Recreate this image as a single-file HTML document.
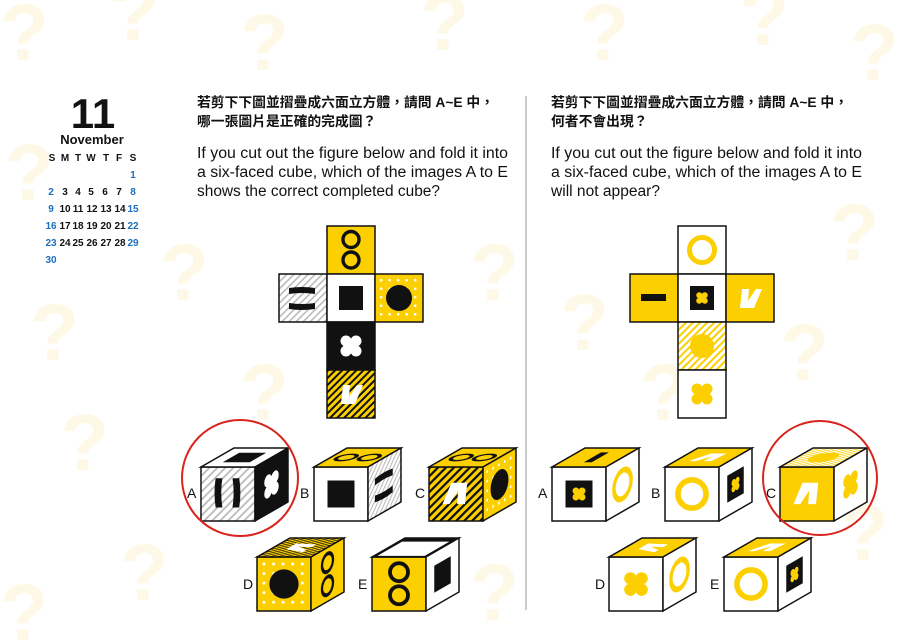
<!DOCTYPE html>
<html><head><meta charset="utf-8"><style>
html,body{margin:0;padding:0;background:#fff;}
svg{display:block;font-family:"Liberation Sans","Noto Sans CJK TC",sans-serif;}
</style></head><body>
<svg width="907" height="643" viewBox="0 0 907 643" xmlns="http://www.w3.org/2000/svg">
<defs>
<pattern id="hG" width="5" height="5" patternUnits="userSpaceOnUse" patternTransform="rotate(45)"><rect width="5" height="5" fill="#fff"/><rect width="1.6" height="5" fill="#bbb"/></pattern>
<pattern id="sY" width="5" height="5" patternUnits="userSpaceOnUse" patternTransform="rotate(45)"><rect width="5" height="5" fill="#fccf00"/><rect width="2" height="5" fill="#111"/></pattern>
<pattern id="hY" width="5" height="5" patternUnits="userSpaceOnUse" patternTransform="rotate(45)"><rect width="5" height="5" fill="#fff"/><rect width="2" height="5" fill="#fccf00"/></pattern>
<pattern id="dY" width="8.5" height="8.5" x="2" y="2" patternUnits="userSpaceOnUse"><rect width="8.5" height="8.5" fill="#fccf00"/><circle cx="4.2" cy="4.2" r="1.3" fill="#fff"/></pattern>
<g id="bars"><path d="M10 14 Q23 12 36 14 V20 Q23 18 10 20Z"/><path d="M10 29 Q23 31 36 29 V35 Q23 37 10 35Z"/></g>
<rect id="sq" x="12" y="12" width="24" height="24"/>
<circle id="dot" cx="24" cy="24" r="13"/>
<g id="fl"><circle cx="19" cy="19" r="5.5"/><circle cx="29" cy="19" r="5.5"/><circle cx="19" cy="29" r="5.5"/><circle cx="29" cy="29" r="5.5"/><rect x="18" y="18" width="12" height="12"/></g>
<g id="rings" fill="none" stroke-width="3.4"><circle cx="24" cy="13.5" r="8"/><circle cx="24" cy="34" r="8"/></g>
<circle id="ring" cx="24" cy="24" r="12.5" fill="none" stroke-width="5"/>
<polygon id="v" points="16,15 23,15 22,27 30,15 36,15 28,34 14,34"/>
<rect id="dash" x="11" y="20" width="25" height="7"/>
<g id="sqfl"><rect x="12" y="12" width="24" height="24" fill="#111"/><g transform="translate(24 24) scale(0.55) translate(-24 -24)" fill="#fccf00"><use href="#fl"/></g></g>
</defs>

<!-- background question marks -->
<g fill="#fef9e6" font-weight="bold" font-size="80">
<text x="0" y="60">?</text><text x="110" y="40">?</text><text x="240" y="70">?</text><text x="420" y="50">?</text><text x="580" y="60">?</text><text x="740" y="45">?</text><text x="850" y="80">?</text>
<text x="5" y="200">?</text><text x="160" y="300">?</text><text x="30" y="360">?</text><text x="470" y="300">?</text><text x="560" y="350">?</text><text x="830" y="260">?</text><text x="780" y="380">?</text>
<text x="60" y="470">?</text><text x="120" y="600">?</text><text x="0" y="640">?</text><text x="470" y="620">?</text><text x="840" y="560">?</text><text x="640" y="420">?</text><text x="240" y="420">?</text>
</g>

<!-- calendar -->
<text x="93" y="128" text-anchor="middle" font-size="42" font-weight="bold" fill="#111">11</text>
<text x="92" y="144" text-anchor="middle" font-size="13" font-weight="bold" fill="#111">November</text>
<g font-size="10" font-weight="bold" text-anchor="middle" fill="#111">
<text x="52" y="161">S</text><text x="65" y="161">M</text><text x="78" y="161">T</text><text x="91" y="161">W</text><text x="106" y="161">T</text><text x="119" y="161">F</text><text x="133" y="161">S</text>
<text x="133" y="178" fill="#1a6fc0">1</text>
<text x="51" y="195" fill="#1a6fc0">2</text><text x="65" y="195">3</text><text x="78" y="195">4</text><text x="91" y="195">5</text><text x="105" y="195">6</text><text x="119" y="195">7</text><text x="133" y="195" fill="#1a6fc0">8</text>
<text x="51" y="212" fill="#1a6fc0">9</text><text x="65" y="212">10</text><text x="78" y="212">11</text><text x="92" y="212">12</text><text x="106" y="212">13</text><text x="120" y="212">14</text><text x="133" y="212" fill="#1a6fc0">15</text>
<text x="51" y="229" fill="#1a6fc0">16</text><text x="65" y="229">17</text><text x="78" y="229">18</text><text x="92" y="229">19</text><text x="106" y="229">20</text><text x="120" y="229">21</text><text x="133" y="229" fill="#1a6fc0">22</text>
<text x="51" y="246" fill="#1a6fc0">23</text><text x="65" y="246">24</text><text x="78" y="246">25</text><text x="92" y="246">26</text><text x="106" y="246">27</text><text x="120" y="246">28</text><text x="133" y="246" fill="#1a6fc0">29</text>
<text x="51" y="263" fill="#1a6fc0">30</text>
</g>

<!-- headings -->
<g fill="#111">
<text x="197" y="107" font-size="13.8" font-weight="bold">若剪下下圖並摺疊成六面立方體，請問 A~E 中，</text>
<text x="197" y="126" font-size="13.8" font-weight="bold">哪一張圖片是正確的完成圖？</text>
<text x="197" y="158" font-size="15.5" textLength="311" lengthAdjust="spacingAndGlyphs">If you cut out the figure below and fold it into</text>
<text x="197" y="177" font-size="15.5" textLength="311" lengthAdjust="spacingAndGlyphs">a six-faced cube, which of the images A to E</text>
<text x="197" y="196" font-size="15.5" textLength="243" lengthAdjust="spacingAndGlyphs">shows the correct completed cube?</text>
<text x="551" y="107" font-size="13.8" font-weight="bold">若剪下下圖並摺疊成六面立方體，請問 A~E 中，</text>
<text x="551" y="126" font-size="13.8" font-weight="bold">何者不會出現？</text>
<text x="551" y="158" font-size="15.5" textLength="311" lengthAdjust="spacingAndGlyphs">If you cut out the figure below and fold it into</text>
<text x="551" y="177" font-size="15.5" textLength="311" lengthAdjust="spacingAndGlyphs">a six-faced cube, which of the images A to E</text>
<text x="551" y="196" font-size="15.5" textLength="109" lengthAdjust="spacingAndGlyphs">will not appear?</text>
</g>
<line x1="526" y1="96" x2="526" y2="610" stroke="#aaa" stroke-width="1.2"/>

<!-- left net -->
<g stroke="#111" stroke-width="1.5">
<g transform="translate(327 226)"><rect width="48" height="48" fill="#fccf00"/><use href="#rings" stroke="#111"/></g>
<g transform="translate(279 274)"><rect width="48" height="48" fill="url(#hG)"/><use href="#bars" fill="#111" stroke="none"/></g>
<g transform="translate(327 274)"><rect width="48" height="48" fill="#fff"/><use href="#sq" fill="#111" stroke="none"/></g>
<g transform="translate(375 274)"><rect width="48" height="48" fill="url(#dY)"/><use href="#dot" fill="#111" stroke="none"/></g>
<g transform="translate(327 322)"><rect width="48" height="48" fill="#111"/><use href="#fl" fill="#fff" stroke="none"/></g>
<g transform="translate(327 370)"><rect width="48" height="48" fill="url(#sY)"/><use href="#v" fill="#fff" stroke="none"/></g>
</g>

<!-- right net -->
<g stroke="#111" stroke-width="1.5">
<g transform="translate(678 226)"><rect width="48" height="48" fill="#fff"/><use href="#ring" stroke="#fccf00"/></g>
<g transform="translate(630 274)"><rect width="48" height="48" fill="#fccf00"/><use href="#dash" fill="#111" stroke="none"/></g>
<g transform="translate(678 274)"><rect width="48" height="48" fill="#fff"/><use href="#sqfl" stroke="none"/></g>
<g transform="translate(726 274)"><rect width="48" height="48" fill="#fccf00"/><use href="#v" fill="#fff" stroke="none"/></g>
<g transform="translate(678 322)"><rect width="48" height="48" fill="url(#hY)"/><circle cx="24" cy="24" r="12" fill="#fccf00" stroke="none"/></g>
<g transform="translate(678 370)"><rect width="48" height="48" fill="#fff"/><use href="#fl" fill="#fccf00" stroke="none"/></g>
</g>

<!-- cubes -->
<g stroke="#111" stroke-width="1.5">
<g transform="translate(201 467)">
<g transform="scale(1.125)"><rect width="48" height="48" fill="url(#hG)" vector-effect="non-scaling-stroke"/><use href="#bars" transform="rotate(90 24 24)" fill="#111" stroke="none"/></g>
<g transform="matrix(1,0,-0.611,0.352,33,-19) scale(1.125)"><rect width="48" height="48" fill="#fff" vector-effect="non-scaling-stroke"/><use href="#sq" fill="#111" stroke="none"/></g>
<g transform="matrix(0.611,-0.352,0,1,54,0) scale(1.125)"><rect width="48" height="48" fill="#111" vector-effect="non-scaling-stroke"/><use href="#fl" fill="#fff" stroke="none"/></g>
</g>
<g transform="translate(314 467)">
<g transform="scale(1.125)"><rect width="48" height="48" fill="#fff" vector-effect="non-scaling-stroke"/><use href="#sq" fill="#111" stroke="none"/></g>
<g transform="matrix(1,0,-0.611,0.352,33,-19) scale(1.125)"><rect width="48" height="48" fill="#fccf00" vector-effect="non-scaling-stroke"/><use href="#rings" transform="rotate(90 24 24)" stroke="#111"/></g>
<g transform="matrix(0.611,-0.352,0,1,54,0) scale(1.125)"><rect width="48" height="48" fill="url(#hG)" vector-effect="non-scaling-stroke"/><use href="#bars" fill="#111" stroke="none"/></g>
</g>
<g transform="translate(429 467)">
<g transform="scale(1.125)"><rect width="48" height="48" fill="url(#sY)" vector-effect="non-scaling-stroke"/><use href="#v" transform="rotate(180 24 24)" fill="#fff" stroke="none"/></g>
<g transform="matrix(1,0,-0.611,0.352,33,-19) scale(1.125)"><rect width="48" height="48" fill="#fccf00" vector-effect="non-scaling-stroke"/><use href="#rings" transform="rotate(90 24 24)" stroke="#111"/></g>
<g transform="matrix(0.611,-0.352,0,1,54,0) scale(1.125)"><rect width="48" height="48" fill="url(#dY)" vector-effect="non-scaling-stroke"/><use href="#dot" fill="#111" stroke="none"/></g>
</g>
<g transform="translate(257 557)">
<g transform="scale(1.125)"><rect width="48" height="48" fill="url(#dY)" vector-effect="non-scaling-stroke"/><use href="#dot" fill="#111" stroke="none"/></g>
<g transform="matrix(1,0,-0.611,0.352,33,-19) scale(1.125)"><rect width="48" height="48" fill="url(#sY)" vector-effect="non-scaling-stroke"/><use href="#v" transform="rotate(90 24 24)" fill="#fff" stroke="none"/></g>
<g transform="matrix(0.611,-0.352,0,1,54,0) scale(1.125)"><rect width="48" height="48" fill="#fccf00" vector-effect="non-scaling-stroke"/><use href="#rings" stroke="#111"/></g>
</g>
<g transform="translate(372 557)">
<g transform="scale(1.125)"><rect width="48" height="48" fill="#fccf00" vector-effect="non-scaling-stroke"/><use href="#rings" stroke="#111"/></g>
<g transform="matrix(1,0,-0.611,0.352,33,-19) scale(1.125)"><rect width="48" height="48" fill="#111" vector-effect="non-scaling-stroke"/><rect x="3" y="9" width="42" height="36" fill="#fff" stroke="none"/></g>
<g transform="matrix(0.611,-0.352,0,1,54,0) scale(1.125)"><rect width="48" height="48" fill="#fff" vector-effect="non-scaling-stroke"/><use href="#sq" fill="#111" stroke="none"/></g>
</g>

<g transform="translate(552 467)">
<g transform="scale(1.125)"><rect width="48" height="48" fill="#fff" vector-effect="non-scaling-stroke"/><use href="#sqfl" stroke="none"/></g>
<g transform="matrix(1,0,-0.611,0.352,33,-19) scale(1.125)"><rect width="48" height="48" fill="#fccf00" vector-effect="non-scaling-stroke"/><use href="#dash" transform="rotate(90 24 24)" fill="#111" stroke="none"/></g>
<g transform="matrix(0.611,-0.352,0,1,54,0) scale(1.125)"><rect width="48" height="48" fill="#fff" vector-effect="non-scaling-stroke"/><use href="#ring" stroke="#fccf00"/></g>
</g>
<g transform="translate(665 467)">
<g transform="scale(1.125)"><rect width="48" height="48" fill="#fff" vector-effect="non-scaling-stroke"/><use href="#ring" stroke="#fccf00"/></g>
<g transform="matrix(1,0,-0.611,0.352,33,-19) scale(1.125)"><rect width="48" height="48" fill="#fccf00" vector-effect="non-scaling-stroke"/><use href="#v" transform="rotate(180 24 24)" fill="#fff" stroke="none"/></g>
<g transform="matrix(0.611,-0.352,0,1,54,0) scale(1.125)"><rect width="48" height="48" fill="#fff" vector-effect="non-scaling-stroke"/><use href="#sqfl" stroke="none"/></g>
</g>
<g transform="translate(780 467)">
<g transform="scale(1.125)"><rect width="48" height="48" fill="#fccf00" vector-effect="non-scaling-stroke"/><use href="#v" transform="rotate(180 24 24)" fill="#fff" stroke="none"/></g>
<g transform="matrix(1,0,-0.611,0.352,33,-19) scale(1.125)"><rect width="48" height="48" fill="url(#hY)" vector-effect="non-scaling-stroke"/><circle cx="24" cy="24" r="12" fill="#fccf00" stroke="none"/></g>
<g transform="matrix(0.611,-0.352,0,1,54,0) scale(1.125)"><rect width="48" height="48" fill="#fff" vector-effect="non-scaling-stroke"/><use href="#fl" fill="#fccf00" stroke="none"/></g>
</g>
<g transform="translate(609 557)">
<g transform="scale(1.125)"><rect width="48" height="48" fill="#fff" vector-effect="non-scaling-stroke"/><use href="#fl" fill="#fccf00" stroke="none"/></g>
<g transform="matrix(1,0,-0.611,0.352,33,-19) scale(1.125)"><rect width="48" height="48" fill="#fccf00" vector-effect="non-scaling-stroke"/><use href="#v" transform="rotate(90 24 24)" fill="#fff" stroke="none"/></g>
<g transform="matrix(0.611,-0.352,0,1,54,0) scale(1.125)"><rect width="48" height="48" fill="#fff" vector-effect="non-scaling-stroke"/><use href="#ring" stroke="#fccf00"/></g>
</g>
<g transform="translate(724 557)">
<g transform="scale(1.125)"><rect width="48" height="48" fill="#fff" vector-effect="non-scaling-stroke"/><use href="#ring" stroke="#fccf00"/></g>
<g transform="matrix(1,0,-0.611,0.352,33,-19) scale(1.125)"><rect width="48" height="48" fill="#fccf00" vector-effect="non-scaling-stroke"/><use href="#v" transform="rotate(180 24 24)" fill="#fff" stroke="none"/></g>
<g transform="matrix(0.611,-0.352,0,1,54,0) scale(1.125)"><rect width="48" height="48" fill="#fff" vector-effect="non-scaling-stroke"/><use href="#sqfl" stroke="none"/></g>
</g>
</g>

<!-- labels -->
<g font-size="14" fill="#111">
<text x="187" y="498">A</text><text x="300" y="498">B</text><text x="415" y="498">C</text>
<text x="243" y="589">D</text><text x="358" y="589">E</text>
<text x="538" y="498">A</text><text x="651" y="498">B</text><text x="766" y="498">C</text>
<text x="595" y="589">D</text><text x="710" y="589">E</text>
</g>

<circle cx="240" cy="478" r="58" fill="none" stroke="#d9231d" stroke-width="2"/>
<circle cx="820" cy="478" r="57" fill="none" stroke="#d9231d" stroke-width="2"/>
</svg>
</body></html>
